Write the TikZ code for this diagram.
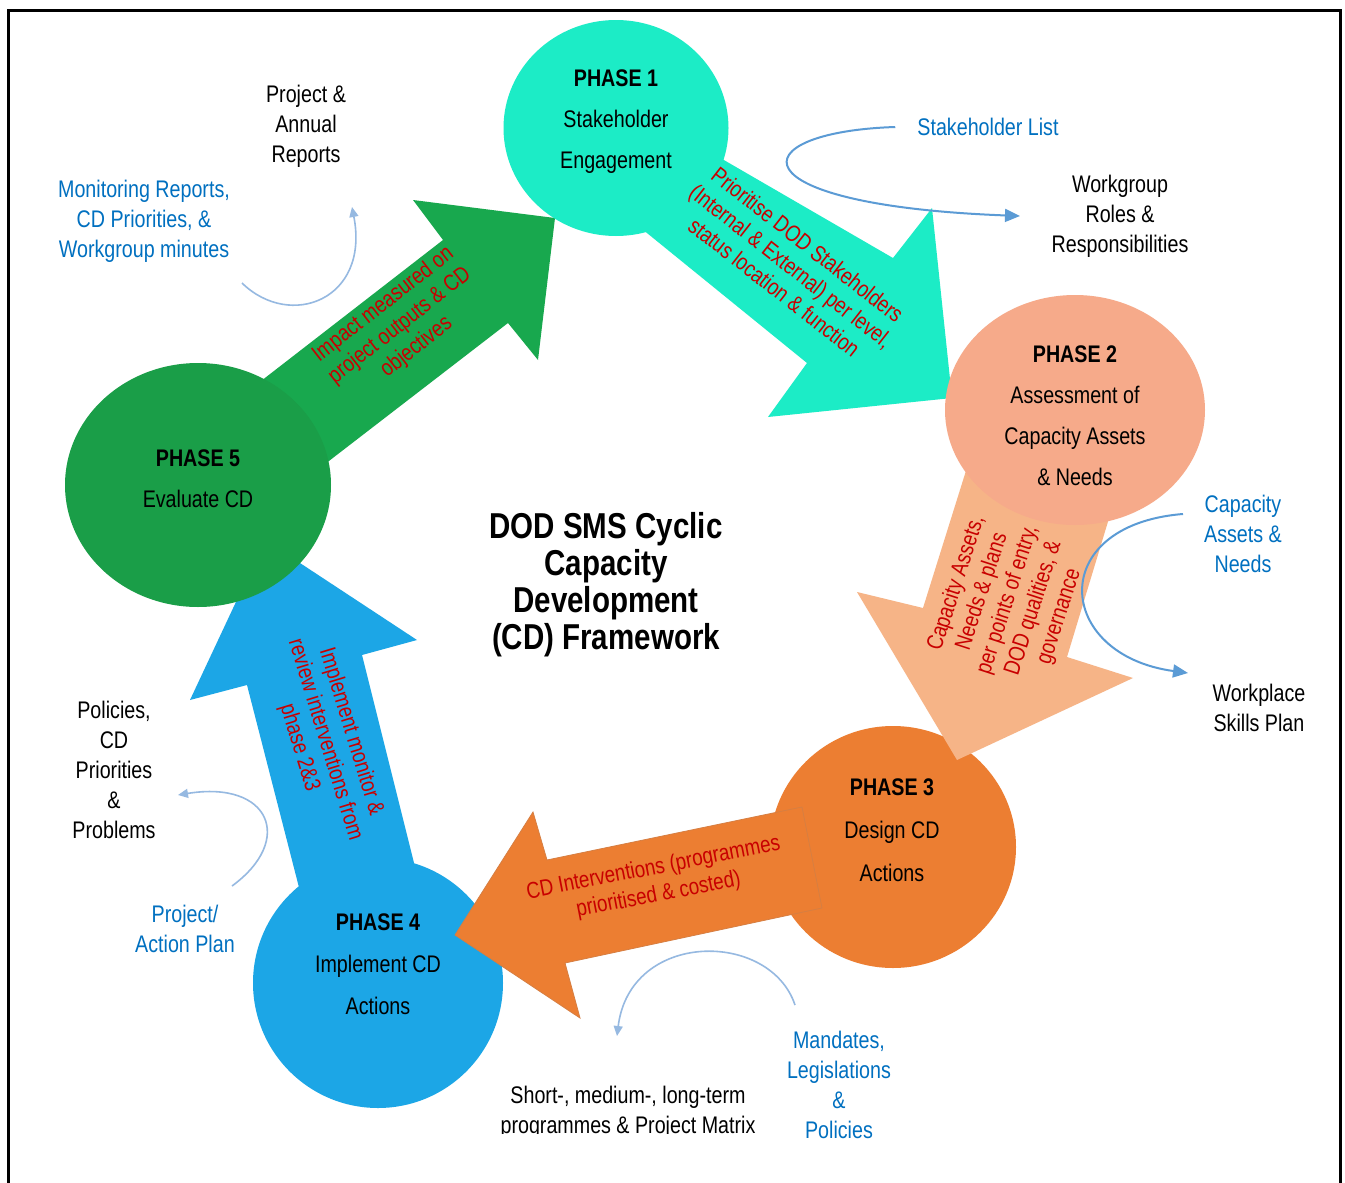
\documentclass[tikz,border=0pt]{standalone}
\usepackage{fontspec}
\setmainfont[FakeStretch=0.82]{Liberation Sans}
\usetikzlibrary{arrows.meta,shapes.geometric}
\definecolor{turq}{RGB}{28,236,198}
\definecolor{peachc}{RGB}{246,170,138}
\definecolor{peacha}{RGB}{246,180,135}
\definecolor{orangec}{RGB}{236,126,50}
\definecolor{bluec}{RGB}{28,166,230}
\definecolor{greenc}{RGB}{26,158,72}
\definecolor{greena}{RGB}{24,168,78}
\definecolor{txtred}{RGB}{200,0,0}
\definecolor{txtblue}{RGB}{0,112,192}
\definecolor{flowblue}{RGB}{91,155,213}
\definecolor{lightflow}{RGB}{150,185,225}
\tikzset{
  lbl/.style={font=\fontsize{24}{30}\selectfont, align=center, inner sep=0pt},
  blk/.style={lbl, text=black},
  blu/.style={lbl, text=txtblue},
  phasetxt/.style={font=\fontsize{24}{41}\selectfont, align=center, inner sep=0pt, text=black},
  redtxt/.style={font=\fontsize{23}{27}\selectfont, align=center, inner sep=0pt, text=txtred},
  disc/.style={ellipse, inner sep=0pt},
  flow/.style={draw=flowblue, line width=2pt, -{Triangle[length=15pt,width=13pt]}},
  softflow/.style={draw=lightflow, line width=1.6pt, -{Triangle[length=10pt,width=9pt]}},
}
\begin{document}
\begin{tikzpicture}[x=1pt,y=-1pt]
\useasboundingbox (0,0) rectangle (1345,1183);
\fill[white] (0,0) rectangle (1345,1183);
% frame
\draw[line width=3pt] (8,1190) -- (8,10) -- (1340,10) -- (1340,1190);

% block arrows under the discs
\fill[turq] (660,123) -- (893,258) -- (932,208) -- (952,398) -- (768,417) -- (807,363) -- (610,203) -- cycle;
\fill[greena] (212,419) -- (443,240) -- (413,200) -- (555,218) -- (538,360) -- (508,323) -- (290,491) -- cycle;
\fill[bluec] (303,903) -- (247,685) -- (190,700) -- (265,540) -- (417,640) -- (362,655) -- (417,875) -- cycle;

% discs
\node[disc, fill=turq, minimum width=225pt, minimum height=216pt] (p1) at (616,128) {};
\node[disc, fill=greenc, minimum width=266pt, minimum height=244pt] (p5) at (198,485) {};
\node[disc, fill=bluec, minimum width=250pt, minimum height=250pt] (p4) at (378,983) {};
\node[disc, fill=orangec, minimum width=246pt, minimum height=242pt] (p3) at (893,847) {};

\fill[peacha] (975,442) -- (923,608) -- (857,592) -- (957,760) -- (1133,678) -- (1067,657) -- (1120,482) -- cycle;
\node[disc, fill=peachc, minimum width=260pt, minimum height=230pt] (p2) at (1075,410) {};

\filldraw[fill=orangec, draw=orangec!80!gray, line width=0.8pt] (802,807) -- (547,860) -- (533,812) -- (455,935) -- (580,1018) -- (565,963) -- (822,908) -- cycle;

% phase texts
\node[phasetxt] (t1) at (616,122) {\textbf{PHASE 1}\\Stakeholder\\Engagement};
\node[phasetxt] (t2) at (1075,416) {\textbf{PHASE 2}\\Assessment of\\Capacity Assets\\\& Needs};
\node[phasetxt, font=\fontsize{24}{43}\selectfont] (t3) at (892,830) {\textbf{PHASE 3}\\Design CD\\Actions};
\node[phasetxt, font=\fontsize{24}{42}\selectfont] (t4) at (378,964) {\textbf{PHASE 4}\\Implement CD\\Actions};
\node[phasetxt] (t5) at (198,479) {\textbf{PHASE 5}\\Evaluate CD};

% arrow captions
\node[redtxt, rotate=38] (c5) at (400,326) {Impact measured on\\project outputs \& CD\\objectives};
\node[redtxt, rotate=-38] (c1) at (791,266) {Prioritise DOD Stakeholders\\(Internal \& External) per level,\\status location \& function};
\node[redtxt, rotate=72] (c2) at (1008,600) {Capacity Assets,\\Needs \& plans\\per points of entry,\\DOD qualities, \&\\governance};
\node[redtxt, rotate=11] (c3) at (656,882) {CD Interventions (programmes\\prioritised \& costed)};
\node[redtxt, rotate=-73] (c4) at (325,740) {Implement monitor \&\\review interventions from\\phase 2\&3};

% title
\node[font=\fontsize{36}{37}\selectfont\bfseries, align=center, inner sep=0pt] (title) at (606,585) {DOD SMS Cyclic\\Capacity\\Development\\(CD) Framework};

% side labels
\node[blk] (par) at (306,126) {Project \&\\Annual\\Reports};
\node[blu] (mon) at (144,221) {Monitoring Reports,\\CD Priorities, \&\\Workgroup minutes};
\node[blu] (shl) at (988,127) {Stakeholder List};
\node[blk] (wrr) at (1120,216) {Workgroup\\Roles \&\\Responsibilities};
\node[blu] (can) at (1243,534) {Capacity\\Assets \&\\Needs};
\node[blk] (wsp) at (1259,708) {Workplace\\Skills Plan};
\node[blk] (pol) at (114,770) {Policies,\\CD\\Priorities\\\&\\Problems};
\node[blu] (pap) at (185,929) {Project/\\Action Plan};
\node[blu] (mlp) at (839,1085) {Mandates,\\Legislations\\\&\\Policies};
\begin{scope}
\clip (420,1070) rectangle (820,1133);
\node[blk] (stm) at (628,1112) {Short-, medium-, long-term\\programmes \& Project Matrix};
\end{scope}

% thin curved connectors
\coordinate (shlS) at ([xshift=-22pt]shl.west);
\coordinate (wrrE) at (1020,216);
\draw[flow] (shlS) .. controls (740,132) and (730,205) .. (wrrE);
\coordinate (canS) at (1183,514);
\coordinate (wspE) at (1188,673);
\draw[flow] (canS) .. controls (1045,525) and (1055,655) .. (wspE);
\coordinate (monS) at (242,283);
\coordinate (parE) at (352,207);
\draw[softflow] (monS) .. controls (290,330) and (370,300) .. (parE);
\coordinate (papS) at (232,886);
\coordinate (polE) at (178,795);
\draw[softflow] (papS) .. controls (295,840) and (270,780) .. (polE);
\coordinate (mlpS) at (795,1005);
\coordinate (stmE) at (617,1036);
\draw[softflow] (mlpS) .. controls (770,930) and (630,930) .. (stmE);
\end{tikzpicture}
\end{document}
